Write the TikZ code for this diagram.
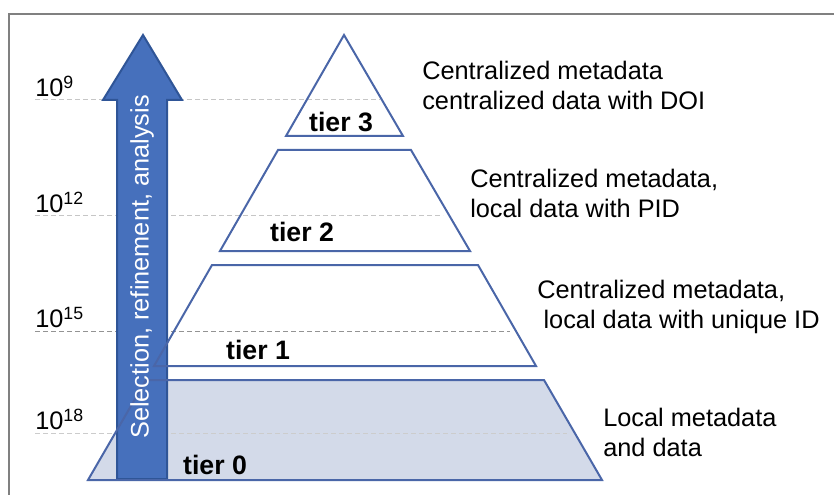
\documentclass[tikz,border=0pt]{standalone}
\usepackage{fontspec}
\setmainfont{Liberation Sans}
\usepackage{xcolor}
\definecolor{tierline}{HTML}{4A66A8}
\definecolor{tierfill}{HTML}{D3DAE9}
\definecolor{arrowfill}{HTML}{4670BC}
\definecolor{arrowline}{HTML}{2F5597}
\definecolor{framegray}{HTML}{808080}
\tikzset{
  tierbox/.style={draw=tierline, line width=1.5pt, line join=miter},
  tiername/.style={inner sep=0pt, font=\fontsize{20}{24}\selectfont\bfseries},
  sidetext/.style={anchor=west, inner sep=0pt, align=left, font=\fontsize{19}{22.5}\selectfont},
  scalelabel/.style={anchor=south west, inner sep=0pt, font=\fontsize{19}{22.5}\selectfont},
  levelline/.style={line width=0.75pt, dash pattern={on 3.75pt off 2.25pt}},
}

\begin{document}
\begin{tikzpicture}[x=0.75pt,y=0.75pt,yscale=-1,xscale=1]
                \useasboundingbox (0,0) rectangle (834,495);
                \clip (0,0) rectangle (834,495);
                % frame
                \draw [framegray, line width=2pt]  (9,14) rectangle (850,510) ;
                % tier 0 fill
                \fill [tierfill]  (146,380) -- (544,380) -- (602,480) -- (88,480) -- cycle ;
                % levels
                \draw [levelline, color=gray!45]  (35,100) -- (380,100) ;
                \draw [levelline, color=gray!45]  (35,216) -- (443,216) ;
                \draw [levelline, color=gray!85]  (35,331) -- (510,331) ;
                \draw [levelline, color=gray!40]  (35,433) -- (567,433) ;
                \draw (35,97) node [scalelabel] (e9) {10\textsuperscript{9}};
                \draw (35,213) node [scalelabel] (e12) {10\textsuperscript{12}};
                \draw (35,328) node [scalelabel] (e15) {10\textsuperscript{15}};
                \draw (35,430) node [scalelabel] (e18) {10\textsuperscript{18}};
                % arrow
                \draw [fill=arrowfill, draw=arrowline, line width=1.5pt, line join=miter]  (143,35) -- (182,100) -- (167,100) -- (167,479) -- (117,479) -- (117,100) -- (103,100) -- cycle ;
                % pyramid
                \draw [tierbox]  (344,35) -- (403,136) -- (286,136) -- cycle ;
                \draw [tierbox]  (278,150) -- (411,150) -- (470,251) -- (220,251) -- cycle ;
                \draw [tierbox]  (212,265) -- (478,265) -- (536,366) -- (154,366) -- cycle ;
                \draw [tierbox]  (146,380) -- (544,380) -- (602,480) -- (88,480) -- cycle ;
                \draw (142,267) node [rotate=90, text=white, inner sep=0pt, font=\fontsize{19}{22.5}\selectfont] (sel) {Selection, refinement, analysis};
                \draw (341,122) node [tiername] (t3) {tier 3};
                \draw (302,232) node [tiername] (t2) {tier 2};
                \draw (258,350) node [tiername] (t1) {tier 1};
                \draw (215,465) node [tiername] (t0) {tier 0};
                \draw (422,85) node [sidetext] (d3) {Centralized metadata\\centralized data with DOI};
                \draw (470,193) node [sidetext] (d2) {Centralized metadata,\\local data with PID};
                \draw (537,307) node [sidetext] (d1) {Centralized metadata,\\\hspace{0.25em}local data with unique ID};
                \draw (603,432) node [sidetext] (d0) {Local metadata\\and data};
            \end{tikzpicture}
\end{document}
